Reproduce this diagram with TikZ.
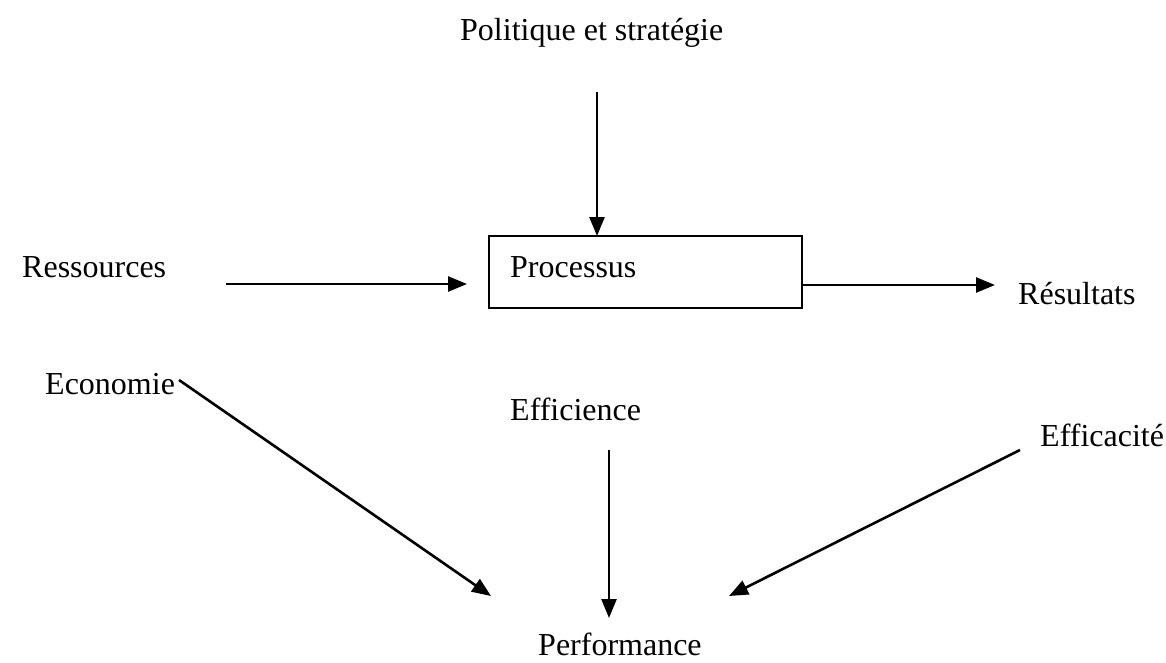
\documentclass[tikz,border=0pt]{standalone}
\usepackage{fontspec}
\setmainfont{Liberation Serif}
\usetikzlibrary{arrows.meta}
\begin{document}
\begin{tikzpicture}[x=1pt,y=-1pt,
  lbl/.style={inner sep=0pt,anchor=base west,font=\fontsize{32}{38}\selectfont},
  conn/.style={line width=2.6pt,-{Triangle[length=19pt,width=15pt]}}]
\useasboundingbox (0,0) rectangle (1166,663);
\node[lbl] (pol) at (460,41) {Politique et stratégie};
\draw[line width=2pt] (489,236) rectangle (802,308);
\node[lbl] (proc) at (510,277) {Processus};
\coordinate (boxtop) at (597,236);
\coordinate (boxright) at (802,285);
\node[lbl] (res) at (22,277) {Ressources};
\node[lbl] (resu) at (1018,304) {Résultats};
\node[lbl] (eco) at (45,394) {Economie};
\node[lbl] (effi) at (510,420) {Efficience};
\node[lbl] (effa) at (1040,446) {Efficacité};
\node[lbl] (perf) at (538,655) {Performance};
\coordinate (a1s) at (597,92);
\coordinate (a2s) at (226,284);
\coordinate (a2e) at (467,284);
\coordinate (a3e) at (995,285);
\coordinate (a4s) at (179,380);
\coordinate (a4e) at (491,596);
\coordinate (a5s) at (609,450);
\coordinate (a5e) at (609,618);
\coordinate (a6s) at (1020,450);
\coordinate (a6e) at (729,596);
\draw[conn] (a1s) -- (boxtop);
\draw[conn] (a2s) -- (a2e);
\draw[conn] (boxright) -- (a3e);
\draw[conn] (a4s) -- (a4e);
\draw[conn] (a5s) -- (a5e);
\draw[conn] (a6s) -- (a6e);
\end{tikzpicture}
\end{document}
